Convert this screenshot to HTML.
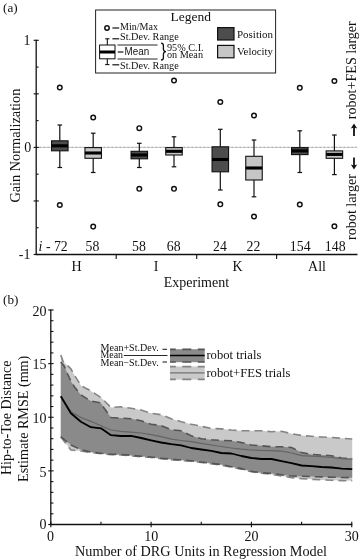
<!DOCTYPE html>
<html><head><meta charset="utf-8"><title>Figure</title>
<style>html,body{margin:0;padding:0;background:#fff;}body{width:360px;height:560px;overflow:hidden;font-family:"Liberation Serif",serif;}svg{display:block;font-family:"Liberation Serif",serif;will-change:transform;filter:grayscale(1);}</style></head><body>
<svg width="360" height="560" viewBox="0 0 360 560">
<rect width="360" height="560" fill="#fff"/>
<text x="3" y="11.6" font-size="13.2" text-anchor="start" fill="#111" >(a)</text>
<line x1="36.2" y1="147.4" x2="357.5" y2="147.4" stroke="#8c8c8c" stroke-width="1.3" stroke-dasharray="0.7,0.6333"/>
<line x1="36.2" y1="39.699999999999996" x2="36.2" y2="255.1" stroke="#111" stroke-width="1.3" />
<line x1="35.6" y1="254.5" x2="357.5" y2="254.5" stroke="#111" stroke-width="1.3" />
<line x1="33.6" y1="40.3" x2="38.800000000000004" y2="40.3" stroke="#111" stroke-width="1.1" />
<line x1="36.2" y1="67.07499999999999" x2="38.6" y2="67.07499999999999" stroke="#111" stroke-width="1.1" />
<line x1="33.6" y1="93.85" x2="38.800000000000004" y2="93.85" stroke="#111" stroke-width="1.1" />
<line x1="36.2" y1="120.62499999999999" x2="38.6" y2="120.62499999999999" stroke="#111" stroke-width="1.1" />
<line x1="33.6" y1="147.39999999999998" x2="38.800000000000004" y2="147.39999999999998" stroke="#111" stroke-width="1.1" />
<line x1="36.2" y1="174.175" x2="38.6" y2="174.175" stroke="#111" stroke-width="1.1" />
<line x1="33.6" y1="200.95" x2="38.800000000000004" y2="200.95" stroke="#111" stroke-width="1.1" />
<line x1="36.2" y1="227.72499999999997" x2="38.6" y2="227.72499999999997" stroke="#111" stroke-width="1.1" />
<line x1="33.6" y1="254.5" x2="38.800000000000004" y2="254.5" stroke="#111" stroke-width="1.1" />
<line x1="116.2" y1="254.5" x2="116.2" y2="259.1" stroke="#111" stroke-width="1.1" />
<line x1="196.7" y1="254.5" x2="196.7" y2="259.1" stroke="#111" stroke-width="1.1" />
<line x1="276.6" y1="254.5" x2="276.6" y2="259.1" stroke="#111" stroke-width="1.1" />
<text x="30.4" y="45" font-size="14" text-anchor="end" fill="#111" >1</text>
<text x="31.2" y="152.3" font-size="14" text-anchor="end" fill="#111" >0</text>
<text x="30.4" y="259" font-size="14" text-anchor="end" fill="#111" >-1</text>
<text transform="translate(20,202.6) rotate(-90)" font-size="14" text-anchor="start" fill="#111" textLength="114" lengthAdjust="spacingAndGlyphs">Gain Normalization</text>
<text x="76.5" y="271.3" font-size="14" text-anchor="middle" fill="#111" >H</text>
<text x="156.2" y="271.3" font-size="14" text-anchor="middle" fill="#111" >I</text>
<text x="237.5" y="271.3" font-size="14" text-anchor="middle" fill="#111" >K</text>
<text x="317" y="271.3" font-size="14" text-anchor="middle" fill="#111" >All</text>
<text x="163.8" y="287.2" font-size="14" text-anchor="start" fill="#111"  textLength="65.3" lengthAdjust="spacingAndGlyphs">Experiment</text>
<text x="38.6" y="251.2" font-size="13.8" fill="#111"><tspan font-style="italic">i</tspan> - 72</text>
<text x="92.5" y="251.2" font-size="13.8" text-anchor="middle" fill="#111" >58</text>
<text x="139" y="251.2" font-size="13.8" text-anchor="middle" fill="#111" >58</text>
<text x="173.7" y="251.2" font-size="13.8" text-anchor="middle" fill="#111" >68</text>
<text x="220" y="251.2" font-size="13.8" text-anchor="middle" fill="#111" >24</text>
<text x="253.5" y="251.2" font-size="13.8" text-anchor="middle" fill="#111" >22</text>
<text x="300.2" y="251.2" font-size="13.8" text-anchor="middle" fill="#111" >154</text>
<text x="335.2" y="251.2" font-size="13.8" text-anchor="middle" fill="#111" >148</text>
<line x1="59.8" y1="125" x2="59.8" y2="140.8" stroke="#111" stroke-width="1.2" />
<line x1="59.8" y1="150.8" x2="59.8" y2="167.5" stroke="#111" stroke-width="1.2" />
<line x1="57.5" y1="125" x2="62.099999999999994" y2="125" stroke="#111" stroke-width="1.2" />
<line x1="57.5" y1="167.5" x2="62.099999999999994" y2="167.5" stroke="#111" stroke-width="1.2" />
<rect x="51.55" y="140.8" width="16.5" height="10.0" fill="#4d4d4d" stroke="#111" stroke-width="1.1"/>
<line x1="51.55" y1="145.8" x2="68.05" y2="145.8" stroke="#000" stroke-width="3.1" />
<circle cx="59.8" cy="87.5" r="2.3" fill="#fff" stroke="#111" stroke-width="1.45"/>
<circle cx="59.8" cy="205" r="2.3" fill="#fff" stroke="#111" stroke-width="1.45"/>
<line x1="93.2" y1="133.2" x2="93.2" y2="147.6" stroke="#111" stroke-width="1.2" />
<line x1="93.2" y1="158.3" x2="93.2" y2="172.5" stroke="#111" stroke-width="1.2" />
<line x1="90.9" y1="133.2" x2="95.5" y2="133.2" stroke="#111" stroke-width="1.2" />
<line x1="90.9" y1="172.5" x2="95.5" y2="172.5" stroke="#111" stroke-width="1.2" />
<rect x="84.95" y="147.6" width="16.5" height="10.700000000000017" fill="#c6c6c6" stroke="#111" stroke-width="1.1"/>
<line x1="84.95" y1="153" x2="101.45" y2="153" stroke="#000" stroke-width="3.1" />
<circle cx="93.2" cy="117.5" r="2.3" fill="#fff" stroke="#111" stroke-width="1.45"/>
<circle cx="93.2" cy="226.6" r="2.3" fill="#fff" stroke="#111" stroke-width="1.45"/>
<line x1="139.3" y1="143.3" x2="139.3" y2="151.3" stroke="#111" stroke-width="1.2" />
<line x1="139.3" y1="158.8" x2="139.3" y2="167.5" stroke="#111" stroke-width="1.2" />
<line x1="137.0" y1="143.3" x2="141.60000000000002" y2="143.3" stroke="#111" stroke-width="1.2" />
<line x1="137.0" y1="167.5" x2="141.60000000000002" y2="167.5" stroke="#111" stroke-width="1.2" />
<rect x="131.05" y="151.3" width="16.5" height="7.5" fill="#4d4d4d" stroke="#111" stroke-width="1.1"/>
<line x1="131.05" y1="155" x2="147.55" y2="155" stroke="#000" stroke-width="3.1" />
<circle cx="139.3" cy="128.2" r="2.3" fill="#fff" stroke="#111" stroke-width="1.45"/>
<circle cx="139.3" cy="188.8" r="2.3" fill="#fff" stroke="#111" stroke-width="1.45"/>
<line x1="174" y1="136.8" x2="174" y2="147.6" stroke="#111" stroke-width="1.2" />
<line x1="174" y1="155" x2="174" y2="166.8" stroke="#111" stroke-width="1.2" />
<line x1="171.7" y1="136.8" x2="176.3" y2="136.8" stroke="#111" stroke-width="1.2" />
<line x1="171.7" y1="166.8" x2="176.3" y2="166.8" stroke="#111" stroke-width="1.2" />
<rect x="165.75" y="147.6" width="16.5" height="7.400000000000006" fill="#c6c6c6" stroke="#111" stroke-width="1.1"/>
<line x1="165.75" y1="151.3" x2="182.25" y2="151.3" stroke="#000" stroke-width="3.1" />
<circle cx="174" cy="80.5" r="2.3" fill="#fff" stroke="#111" stroke-width="1.45"/>
<circle cx="174" cy="188.8" r="2.3" fill="#fff" stroke="#111" stroke-width="1.45"/>
<line x1="220.3" y1="129.3" x2="220.3" y2="146.8" stroke="#111" stroke-width="1.2" />
<line x1="220.3" y1="171.8" x2="220.3" y2="190" stroke="#111" stroke-width="1.2" />
<line x1="218.0" y1="129.3" x2="222.60000000000002" y2="129.3" stroke="#111" stroke-width="1.2" />
<line x1="218.0" y1="190" x2="222.60000000000002" y2="190" stroke="#111" stroke-width="1.2" />
<rect x="212.05" y="146.8" width="16.5" height="25.0" fill="#4d4d4d" stroke="#111" stroke-width="1.1"/>
<line x1="212.05" y1="159.5" x2="228.55" y2="159.5" stroke="#000" stroke-width="3.1" />
<circle cx="220.3" cy="102" r="2.3" fill="#fff" stroke="#111" stroke-width="1.45"/>
<circle cx="220.3" cy="204.3" r="2.3" fill="#fff" stroke="#111" stroke-width="1.45"/>
<line x1="254" y1="140" x2="254" y2="156.3" stroke="#111" stroke-width="1.2" />
<line x1="254" y1="180" x2="254" y2="196.8" stroke="#111" stroke-width="1.2" />
<line x1="251.7" y1="140" x2="256.3" y2="140" stroke="#111" stroke-width="1.2" />
<line x1="251.7" y1="196.8" x2="256.3" y2="196.8" stroke="#111" stroke-width="1.2" />
<rect x="245.75" y="156.3" width="16.5" height="23.69999999999999" fill="#c6c6c6" stroke="#111" stroke-width="1.1"/>
<line x1="245.75" y1="168" x2="262.25" y2="168" stroke="#000" stroke-width="3.1" />
<circle cx="254" cy="115.5" r="2.3" fill="#fff" stroke="#111" stroke-width="1.45"/>
<circle cx="254" cy="216.5" r="2.3" fill="#fff" stroke="#111" stroke-width="1.45"/>
<line x1="299.8" y1="130.8" x2="299.8" y2="147.6" stroke="#111" stroke-width="1.2" />
<line x1="299.8" y1="154.6" x2="299.8" y2="172.5" stroke="#111" stroke-width="1.2" />
<line x1="297.5" y1="130.8" x2="302.1" y2="130.8" stroke="#111" stroke-width="1.2" />
<line x1="297.5" y1="172.5" x2="302.1" y2="172.5" stroke="#111" stroke-width="1.2" />
<rect x="291.55" y="147.6" width="16.5" height="7.0" fill="#4d4d4d" stroke="#111" stroke-width="1.1"/>
<line x1="291.55" y1="150.9" x2="308.05" y2="150.9" stroke="#000" stroke-width="3.1" />
<circle cx="299.8" cy="87.8" r="2.3" fill="#fff" stroke="#111" stroke-width="1.45"/>
<circle cx="299.8" cy="204.5" r="2.3" fill="#fff" stroke="#111" stroke-width="1.45"/>
<line x1="334.4" y1="135" x2="334.4" y2="150.9" stroke="#111" stroke-width="1.2" />
<line x1="334.4" y1="158.3" x2="334.4" y2="174.6" stroke="#111" stroke-width="1.2" />
<line x1="332.09999999999997" y1="135" x2="336.7" y2="135" stroke="#111" stroke-width="1.2" />
<line x1="332.09999999999997" y1="174.6" x2="336.7" y2="174.6" stroke="#111" stroke-width="1.2" />
<rect x="326.15" y="150.9" width="16.5" height="7.400000000000006" fill="#c6c6c6" stroke="#111" stroke-width="1.1"/>
<line x1="326.15" y1="154.4" x2="342.65" y2="154.4" stroke="#000" stroke-width="3.1" />
<circle cx="334.4" cy="81" r="2.3" fill="#fff" stroke="#111" stroke-width="1.45"/>
<circle cx="334.4" cy="226.3" r="2.3" fill="#fff" stroke="#111" stroke-width="1.45"/>
<rect x="95.6" y="10" width="180" height="63" fill="#fff" stroke="#222" stroke-width="1"/>
<text x="190.8" y="20.6" font-size="13.5" text-anchor="middle" fill="#111"  textLength="40.5" lengthAdjust="spacingAndGlyphs">Legend</text>
<circle cx="107" cy="28" r="2.2" fill="#fff" stroke="#111" stroke-width="1.5"/>
<line x1="112.4" y1="28" x2="119.2" y2="28" stroke="#111" stroke-width="1.2" />
<text x="120" y="30.3" font-size="10.2" text-anchor="start" fill="#111"  textLength="38" lengthAdjust="spacingAndGlyphs">Min/Max</text>
<line x1="112.4" y1="38.8" x2="119.2" y2="38.8" stroke="#111" stroke-width="1.2" />
<text x="120" y="40.3" font-size="10.2" text-anchor="start" fill="#111"  textLength="58.7" lengthAdjust="spacingAndGlyphs">St.Dev. Range</text>
<line x1="112.4" y1="64.8" x2="119.2" y2="64.8" stroke="#111" stroke-width="1.2" />
<text x="120" y="68.7" font-size="10.2" text-anchor="start" fill="#111"  textLength="58.7" lengthAdjust="spacingAndGlyphs">St.Dev. Range</text>
<line x1="107.3" y1="38.8" x2="107.3" y2="64.6" stroke="#111" stroke-width="1.1" />
<line x1="105.2" y1="38.8" x2="109.4" y2="38.8" stroke="#111" stroke-width="1.1" />
<line x1="105.2" y1="64.6" x2="109.4" y2="64.6" stroke="#111" stroke-width="1.1" />
<rect x="99.6" y="45" width="15.4" height="13.8" fill="#fff" stroke="#111" stroke-width="1"/>
<line x1="99.6" y1="52" x2="115" y2="52" stroke="#000" stroke-width="3" />
<line x1="117.5" y1="45" x2="157.5" y2="45" stroke="#111" stroke-width="0.9" />
<line x1="117.5" y1="59" x2="157.5" y2="59" stroke="#111" stroke-width="0.9" />
<line x1="117.8" y1="52" x2="123.4" y2="52" stroke="#111" stroke-width="1.2" />
<text x="124.6" y="55.2" font-size="10" fill="#111" font-family="Liberation Sans, sans-serif" textLength="24.6" lengthAdjust="spacingAndGlyphs">Mean</text>
<path d="M161 43.2 q2.4 0 2.4 2.6 v3.2 q0 2.4 2.6 2.6 q-2.6 0.2 -2.6 2.6 v3.2 q0 2.6 -2.4 2.6" fill="none" stroke="#111" stroke-width="1.3"/>
<text x="167" y="50.8" font-size="9.6" text-anchor="start" fill="#111"  textLength="36.6" lengthAdjust="spacingAndGlyphs">95% C.I.</text>
<text x="167" y="58.2" font-size="9.6" text-anchor="start" fill="#111"  textLength="36" lengthAdjust="spacingAndGlyphs">on Mean</text>
<rect x="217.6" y="27.6" width="16.4" height="12.4" fill="#4d4d4d" stroke="#111" stroke-width="1.2"/>
<rect x="217.6" y="45.4" width="16.4" height="12.4" fill="#c6c6c6" stroke="#111" stroke-width="1.2"/>
<text x="237" y="37.6" font-size="11" text-anchor="start" fill="#111"  textLength="36" lengthAdjust="spacingAndGlyphs">Position</text>
<text x="237" y="55.2" font-size="11" text-anchor="start" fill="#111"  textLength="36" lengthAdjust="spacingAndGlyphs">Velocity</text>
<text transform="translate(356.2,119.2) rotate(-90)" font-size="14" text-anchor="start" fill="#111" textLength="98" lengthAdjust="spacingAndGlyphs">robot+FES larger</text>
<text transform="translate(356.2,240) rotate(-90)" font-size="14" text-anchor="start" fill="#111" textLength="66" lengthAdjust="spacingAndGlyphs">robot larger</text>
<line x1="354" y1="136" x2="354" y2="125.6" stroke="#111" stroke-width="1.8" />
<path d="M354 123.6 L350.8 128.6 L354 127.6 L357.2 128.6 Z" fill="#111"/>
<line x1="354" y1="157.4" x2="354" y2="167.6" stroke="#111" stroke-width="1.8" />
<path d="M354 169.6 L350.8 164.6 L354 165.6 L357.2 164.6 Z" fill="#111"/>
<text x="3" y="303.8" font-size="13.2" text-anchor="start" fill="#111" >(b)</text>
<polygon points="60.8,355.0 63.1,361.5 67.5,365.6 70.9,368.8 74.9,376.0 80.9,385.4 84.9,387.8 90.9,391.0 101.0,397.6 111.0,407.5 121.0,406.8 131.1,408.3 141.1,410.0 151.1,413.3 161.1,414.7 171.2,418.7 181.2,421.7 191.2,424.2 201.3,426.3 211.3,428.5 221.3,428.9 231.4,430.0 241.4,430.8 251.4,430.8 261.5,430.8 271.5,431.7 281.5,431.3 291.6,433.7 301.6,435.5 311.6,436.3 321.7,437.0 331.7,437.5 341.7,438.3 352.2,439.0 352.2,480.8 341.7,480.6 331.7,480.3 321.7,479.9 311.6,479.3 301.6,478.6 291.6,477.6 281.5,476.0 271.5,474.3 261.5,473.3 251.4,471.8 241.4,469.1 231.4,467.2 221.3,465.1 211.3,463.8 201.3,462.5 191.2,461.3 181.2,460.5 171.2,459.7 161.1,458.7 151.1,457.5 141.1,456.7 131.1,455.8 121.0,455.0 111.0,454.7 101.0,453.8 90.9,452.5 80.9,451.0 70.9,450.0 60.8,437.0" fill="#c9c9c9"/>
<polyline points="60.8,355.0 63.1,361.5 67.5,365.6 70.9,368.8 74.9,376.0 80.9,385.4 84.9,387.8 90.9,391.0 101.0,397.6 111.0,407.5 121.0,406.8 131.1,408.3 141.1,410.0 151.1,413.3 161.1,414.7 171.2,418.7 181.2,421.7 191.2,424.2 201.3,426.3 211.3,428.5 221.3,428.9 231.4,430.0 241.4,430.8 251.4,430.8 261.5,430.8 271.5,431.7 281.5,431.3 291.6,433.7 301.6,435.5 311.6,436.3 321.7,437.0 331.7,437.5 341.7,438.3 352.2,439.0" fill="none" stroke="#858585" stroke-width="1.6" stroke-dasharray="8,5"/>
<polyline points="60.8,437.0 70.9,450.0 80.9,451.0 90.9,452.5 101.0,453.8 111.0,454.7 121.0,455.0 131.1,455.8 141.1,456.7 151.1,457.5 161.1,458.7 171.2,459.7 181.2,460.5 191.2,461.3 201.3,462.5 211.3,463.8 221.3,465.1 231.4,467.2 241.4,469.1 251.4,471.8 261.5,473.3 271.5,474.3 281.5,476.0 291.6,477.6 301.6,478.6 311.6,479.3 321.7,479.9 331.7,480.3 341.7,480.6 352.2,480.8" fill="none" stroke="#858585" stroke-width="1.6" stroke-dasharray="8,5"/>
<polygon points="60.8,361.9 64.3,366.2 67.5,373.8 70.9,381.2 74.9,387.5 80.9,395.0 90.9,401.0 101.0,403.0 104.0,408.0 111.0,417.5 121.0,418.1 131.1,418.7 141.1,420.8 151.1,424.2 161.1,425.5 171.2,429.7 181.2,430.8 191.2,435.8 201.3,438.7 211.3,439.7 221.3,440.4 231.4,440.8 241.4,442.5 251.4,445.0 261.5,445.8 271.5,446.7 281.5,446.7 291.6,447.5 301.6,452.5 311.6,454.5 321.7,455.0 331.7,455.7 341.7,458.0 352.2,458.7 352.2,477.7 341.7,477.5 331.7,477.2 321.7,476.9 311.6,476.6 301.6,476.3 291.6,476.0 281.5,474.8 271.5,473.4 261.5,472.8 251.4,471.3 241.4,468.6 231.4,466.7 221.3,464.6 211.3,463.3 201.3,462.0 191.2,460.8 181.2,460.0 171.2,459.2 161.1,458.2 151.1,457.0 141.1,456.2 131.1,455.3 121.0,454.5 111.0,454.2 101.0,453.3 90.9,452.0 80.9,449.7 70.9,445.0 60.8,436.7" fill="#8a8a8a"/>
<polyline points="60.8,361.9 64.3,366.2 67.5,373.8 70.9,381.2 74.9,387.5 80.9,395.0 90.9,401.0 101.0,403.0 104.0,408.0 111.0,417.5 121.0,418.1 131.1,418.7 141.1,420.8 151.1,424.2 161.1,425.5 171.2,429.7 181.2,430.8 191.2,435.8 201.3,438.7 211.3,439.7 221.3,440.4 231.4,440.8 241.4,442.5 251.4,445.0 261.5,445.8 271.5,446.7 281.5,446.7 291.6,447.5 301.6,452.5 311.6,454.5 321.7,455.0 331.7,455.7 341.7,458.0 352.2,458.7" fill="none" stroke="#555" stroke-width="1.6" stroke-dasharray="8,5"/>
<polyline points="60.8,436.7 70.9,445.0 80.9,449.7 90.9,452.0 101.0,453.3 111.0,454.2 121.0,454.5 131.1,455.3 141.1,456.2 151.1,457.0 161.1,458.2 171.2,459.2 181.2,460.0 191.2,460.8 201.3,462.0 211.3,463.3 221.3,464.6 231.4,466.7 241.4,468.6 251.4,471.3 261.5,472.8 271.5,473.4 281.5,474.8 291.6,476.0 301.6,476.3 311.6,476.6 321.7,476.9 331.7,477.2 341.7,477.5 352.2,477.7" fill="none" stroke="#555" stroke-width="1.6" stroke-dasharray="8,5"/>
<polyline points="60.8,396.7 70.9,411.7 80.9,417.5 90.9,421.3 101.0,425.8 111.0,430.0 121.0,431.3 131.1,432.2 141.1,433.0 151.1,434.6 161.1,436.6 171.2,439.2 181.2,440.5 191.2,441.7 201.3,443.3 211.3,445.0 221.3,446.5 231.4,448.0 241.4,449.2 251.4,450.0 261.5,450.5 271.5,450.6 281.5,451.2 291.6,453.0 301.6,455.7 311.6,456.2 321.7,456.7 331.7,457.5 341.7,458.7 352.2,459.2" fill="none" stroke="#646464" stroke-width="1.25"/>
<polyline points="60.8,396.3 70.9,413.3 80.9,421.7 90.9,427.2 101.0,428.3 111.0,435.2 121.0,436.0 131.1,435.8 141.1,438.0 151.1,440.3 161.1,442.5 171.2,444.2 181.2,445.3 191.2,448.0 201.3,449.5 211.3,450.8 221.3,453.0 231.4,453.5 241.4,456.0 251.4,458.0 261.5,459.0 271.5,459.0 281.5,461.2 291.6,463.2 301.6,465.5 311.6,466.2 321.7,467.0 331.7,467.5 341.7,468.7 352.2,469.2" fill="none" stroke="#000" stroke-width="1.8" stroke-linejoin="round"/>
<line x1="50.8" y1="309.4" x2="50.8" y2="525.1" stroke="#111" stroke-width="1.3" />
<line x1="50.199999999999996" y1="524.5" x2="352.35" y2="524.5" stroke="#111" stroke-width="1.3" />
<line x1="48.199999999999996" y1="524.5" x2="53.599999999999994" y2="524.5" stroke="#111" stroke-width="1.1" />
<line x1="50.8" y1="513.775" x2="53.4" y2="513.775" stroke="#111" stroke-width="1.1" />
<line x1="50.8" y1="503.05" x2="53.4" y2="503.05" stroke="#111" stroke-width="1.1" />
<line x1="50.8" y1="492.325" x2="53.4" y2="492.325" stroke="#111" stroke-width="1.1" />
<line x1="50.8" y1="481.6" x2="53.4" y2="481.6" stroke="#111" stroke-width="1.1" />
<line x1="48.199999999999996" y1="470.875" x2="53.599999999999994" y2="470.875" stroke="#111" stroke-width="1.1" />
<line x1="50.8" y1="460.15" x2="53.4" y2="460.15" stroke="#111" stroke-width="1.1" />
<line x1="50.8" y1="449.425" x2="53.4" y2="449.425" stroke="#111" stroke-width="1.1" />
<line x1="50.8" y1="438.7" x2="53.4" y2="438.7" stroke="#111" stroke-width="1.1" />
<line x1="50.8" y1="427.975" x2="53.4" y2="427.975" stroke="#111" stroke-width="1.1" />
<line x1="48.199999999999996" y1="417.25" x2="53.599999999999994" y2="417.25" stroke="#111" stroke-width="1.1" />
<line x1="50.8" y1="406.525" x2="53.4" y2="406.525" stroke="#111" stroke-width="1.1" />
<line x1="50.8" y1="395.8" x2="53.4" y2="395.8" stroke="#111" stroke-width="1.1" />
<line x1="50.8" y1="385.07500000000005" x2="53.4" y2="385.07500000000005" stroke="#111" stroke-width="1.1" />
<line x1="50.8" y1="374.35" x2="53.4" y2="374.35" stroke="#111" stroke-width="1.1" />
<line x1="48.199999999999996" y1="363.625" x2="53.599999999999994" y2="363.625" stroke="#111" stroke-width="1.1" />
<line x1="50.8" y1="352.9" x2="53.4" y2="352.9" stroke="#111" stroke-width="1.1" />
<line x1="50.8" y1="342.175" x2="53.4" y2="342.175" stroke="#111" stroke-width="1.1" />
<line x1="50.8" y1="331.45000000000005" x2="53.4" y2="331.45000000000005" stroke="#111" stroke-width="1.1" />
<line x1="50.8" y1="320.725" x2="53.4" y2="320.725" stroke="#111" stroke-width="1.1" />
<line x1="48.199999999999996" y1="310.0" x2="53.599999999999994" y2="310.0" stroke="#111" stroke-width="1.1" />
<line x1="50.8" y1="521.7" x2="50.8" y2="527.3" stroke="#111" stroke-width="1.1" />
<line x1="100.95833333333333" y1="521.7" x2="100.95833333333333" y2="524.5" stroke="#111" stroke-width="1.1" />
<line x1="151.11666666666667" y1="521.7" x2="151.11666666666667" y2="527.3" stroke="#111" stroke-width="1.1" />
<line x1="201.27499999999998" y1="521.7" x2="201.27499999999998" y2="524.5" stroke="#111" stroke-width="1.1" />
<line x1="251.43333333333334" y1="521.7" x2="251.43333333333334" y2="527.3" stroke="#111" stroke-width="1.1" />
<line x1="301.59166666666664" y1="521.7" x2="301.59166666666664" y2="524.5" stroke="#111" stroke-width="1.1" />
<line x1="351.75" y1="521.7" x2="351.75" y2="527.3" stroke="#111" stroke-width="1.1" />
<text x="46.4" y="315.6" font-size="14" text-anchor="end" fill="#111" >20</text>
<text x="46.4" y="369.4" font-size="14" text-anchor="end" fill="#111" >15</text>
<text x="46.4" y="423" font-size="14" text-anchor="end" fill="#111" >10</text>
<text x="46.4" y="476.5" font-size="14" text-anchor="end" fill="#111" >5</text>
<text x="46.4" y="529" font-size="14" text-anchor="end" fill="#111" >0</text>
<text x="50.6" y="541" font-size="14" text-anchor="middle" fill="#111" >0</text>
<text x="151.2" y="541" font-size="14" text-anchor="middle" fill="#111" >10</text>
<text x="251.4" y="541" font-size="14" text-anchor="middle" fill="#111" >20</text>
<text x="351.8" y="541" font-size="14" text-anchor="middle" fill="#111" >30</text>
<text x="75" y="556.2" font-size="14" text-anchor="start" fill="#111"  textLength="252" lengthAdjust="spacingAndGlyphs">Number of DRG Units in Regression Model</text>
<text transform="translate(11.4,475) rotate(-90)" font-size="14" text-anchor="start" fill="#111" textLength="114.4" lengthAdjust="spacingAndGlyphs">Hip-to-Toe Distance</text>
<text transform="translate(27.6,482) rotate(-90)" font-size="14" text-anchor="start" fill="#111" textLength="126.3" lengthAdjust="spacingAndGlyphs">Estimate RMSE (mm)</text>
<text x="100.5" y="350.5" font-size="10.2" text-anchor="start" fill="#111"  textLength="58.2" lengthAdjust="spacingAndGlyphs">Mean+St.Dev.</text>
<text x="100.5" y="358.2" font-size="10.2" text-anchor="start" fill="#111"  textLength="22.5" lengthAdjust="spacingAndGlyphs">Mean</text>
<text x="100.5" y="365.8" font-size="10.2" text-anchor="start" fill="#111"  textLength="58.2" lengthAdjust="spacingAndGlyphs">Mean−St.Dev.</text>
<line x1="123.8" y1="355.5" x2="167.5" y2="355.5" stroke="#111" stroke-width="0.9" />
<line x1="162.5" y1="349.3" x2="167" y2="349.3" stroke="#111" stroke-width="1" />
<line x1="162.5" y1="362" x2="167" y2="362" stroke="#111" stroke-width="1" />
<rect x="170" y="349.2" width="34.7" height="13" fill="#8a8a8a"/>
<line x1="170" y1="349.4" x2="204.7" y2="349.4" stroke="#555" stroke-width="1.6" stroke-dasharray="9,6.5" stroke-dashoffset="3.2"/>
<line x1="170" y1="362" x2="204.7" y2="362" stroke="#555" stroke-width="1.6" stroke-dasharray="9,6.5" stroke-dashoffset="3.2"/>
<line x1="170" y1="355.5" x2="204.7" y2="355.5" stroke="#000" stroke-width="1.6" />
<rect x="170" y="366.4" width="34.7" height="13.2" fill="#c9c9c9"/>
<line x1="170" y1="366.6" x2="204.7" y2="366.6" stroke="#858585" stroke-width="1.6" stroke-dasharray="9,6.5" stroke-dashoffset="3.2"/>
<line x1="170" y1="379.4" x2="204.7" y2="379.4" stroke="#858585" stroke-width="1.6" stroke-dasharray="9,6.5" stroke-dashoffset="3.2"/>
<line x1="170" y1="372.9" x2="204.7" y2="372.9" stroke="#737373" stroke-width="1.1" />
<text x="206.4" y="358.8" font-size="12.6" text-anchor="start" fill="#111"  textLength="55" lengthAdjust="spacingAndGlyphs">robot trials</text>
<text x="206.4" y="376.6" font-size="12.6" text-anchor="start" fill="#111"  textLength="84" lengthAdjust="spacingAndGlyphs">robot+FES trials</text>
</svg></body></html>
